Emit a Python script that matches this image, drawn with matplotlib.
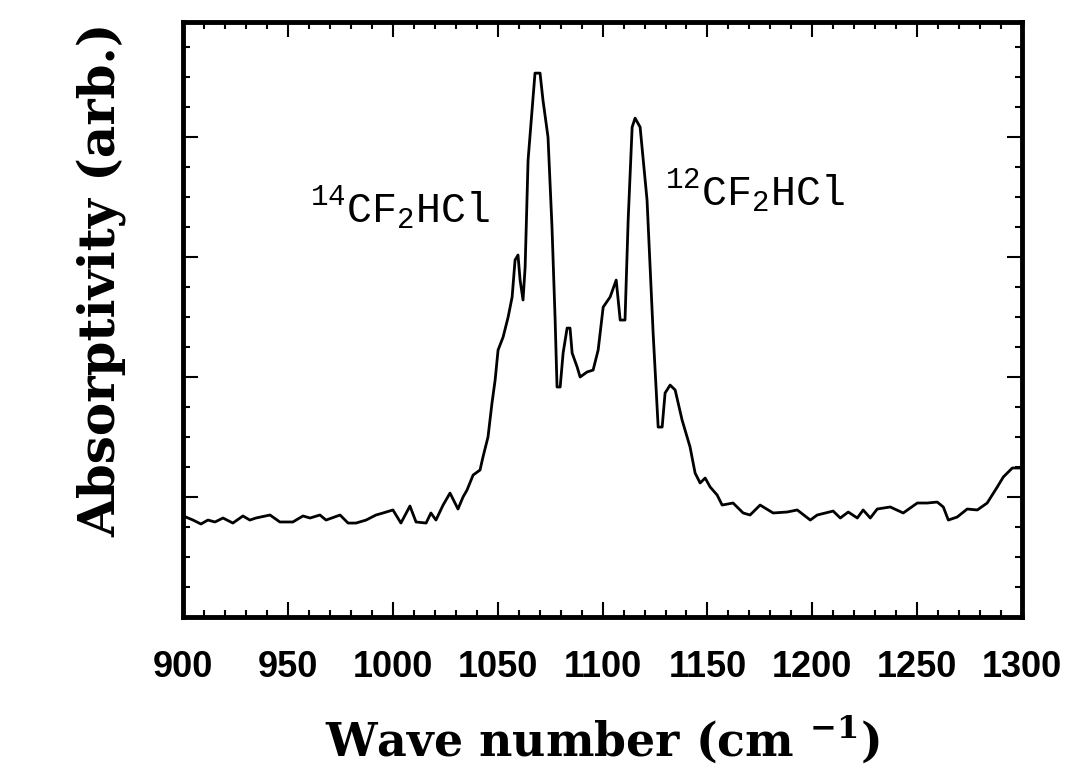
import numpy as np
import matplotlib.pyplot as plt
from matplotlib.ticker import MultipleLocator
from matplotlib import font_manager

# spectrum
wavenumber = [901.4, 904.8, 908.6, 911.9, 915.3, 919.1, 923.8, 928.6, 931.9, 934.8,
              941.5, 946.2, 952.4, 957.2, 960.6, 965.3, 968.2, 974.9, 978.7, 982.5,
              987.3, 992.0, 995.4, 1000.1, 1003.9, 1008.2, 1011.1, 1015.9, 1018.2, 1020.6,
              1024.0, 1027.3, 1031.1, 1033.5, 1035.4, 1038.3, 1041.6, 1043.0, 1045.4, 1047.3,
              1048.8, 1050.2, 1052.6, 1055.0, 1056.9, 1058.3, 1059.7, 1060.7, 1062.1, 1063.1,
              1064.5, 1066.4, 1067.8, 1070.2, 1071.6, 1074.0, 1075.9, 1077.4, 1078.3, 1079.8,
              1081.2, 1083.1, 1084.5, 1085.5, 1087.9, 1089.3, 1092.6, 1095.5, 1097.9, 1100.3,
              1103.6, 1106.5, 1108.4, 1110.7, 1112.2, 1114.1, 1115.5, 1117.9, 1121.2, 1124.1,
              1126.5, 1128.4, 1129.8, 1132.2, 1134.6, 1137.9, 1141.7, 1144.1, 1146.5, 1148.9,
              1151.3, 1154.6, 1157.0, 1162.2, 1167.0, 1170.3, 1175.1, 1181.3, 1188.0, 1192.8,
              1199.0, 1202.3, 1209.9, 1213.3, 1217.1, 1221.4, 1224.2, 1227.6, 1230.9, 1237.1,
              1243.3, 1250.0, 1254.7, 1259.5, 1262.4, 1264.8, 1269.0, 1273.8, 1278.6, 1283.3,
              1288.1, 1291.0, 1295.3, 1300.0]
absorptivity = [0.833, 0.808, 0.775, 0.808, 0.792, 0.825, 0.783, 0.842, 0.808, 0.825,
                0.850, 0.792, 0.792, 0.842, 0.825, 0.850, 0.808, 0.850, 0.783, 0.783,
                0.808, 0.850, 0.867, 0.892, 0.783, 0.925, 0.792, 0.783, 0.867, 0.808,
                0.933, 1.033, 0.900, 1.000, 1.058, 1.183, 1.225, 1.333, 1.500, 1.783,
                1.975, 2.225, 2.333, 2.500, 2.667, 2.975, 3.017, 2.808, 2.642, 2.917,
                3.808, 4.225, 4.533, 4.533, 4.308, 4.000, 3.250, 2.475, 1.917, 1.917,
                2.200, 2.408, 2.408, 2.200, 2.083, 2.000, 2.042, 2.058, 2.225, 2.583,
                2.667, 2.808, 2.475, 2.475, 3.308, 4.083, 4.158, 4.083, 3.475, 2.367,
                1.583, 1.583, 1.867, 1.933, 1.892, 1.642, 1.417, 1.200, 1.117, 1.158,
                1.083, 1.017, 0.933, 0.950, 0.867, 0.850, 0.933, 0.867, 0.875, 0.892,
                0.808, 0.850, 0.883, 0.825, 0.875, 0.825, 0.892, 0.825, 0.900, 0.917,
                0.867, 0.950, 0.950, 0.958, 0.917, 0.808, 0.833, 0.900, 0.892, 0.950,
                1.083, 1.167, 1.242, 1.242]

x_ticks = [900, 950, 1000, 1050, 1100, 1150, 1200, 1250, 1300]

installed = {f.name for f in font_manager.fontManager.ttflist}
tick_font = 'Liberation Sans Narrow' if 'Liberation Sans Narrow' in installed else 'Liberation Sans'

plt.rcParams['mathtext.fontset'] = 'custom'
plt.rcParams['mathtext.rm'] = 'DejaVu Serif'
plt.rcParams['mathtext.bf'] = 'DejaVu Serif:bold'
plt.rcParams['mathtext.tt'] = 'Liberation Mono'

fig = plt.figure(figsize=(10.76, 7.82), dpi=100)
ax = fig.add_axes([0.170, 0.211, 0.780, 0.761])

ax.plot(wavenumber, absorptivity, color='black', linewidth=2.0)

ax.set_xlim(900, 1300)
ax.set_ylim(0, 4.96)
ax.set_xticks(x_ticks)
ax.xaxis.set_minor_locator(MultipleLocator(10))
ax.yaxis.set_major_locator(MultipleLocator(1))
ax.yaxis.set_minor_locator(MultipleLocator(0.25))
ax.set_yticklabels([])

ax.tick_params(which='both', direction='in', top=True, right=True, width=1.5, color='black')
ax.tick_params(which='major', length=11)
ax.tick_params(which='minor', length=5)
ax.tick_params(axis='x', which='major', pad=24)
for lab in ax.get_xticklabels():
    lab.set_fontfamily(tick_font)
    lab.set_fontweight('bold')
    lab.set_fontsize(26)

for s in ax.spines.values():
    s.set_linewidth(3.5)

ax.set_xlabel(r'Wave number (cm $^{\mathbf{-1}}$)', fontfamily='DejaVu Serif',
              fontweight='bold', fontsize=33, labelpad=20)
ax.set_ylabel('Absorptivity (arb.)', fontfamily='DejaVu Serif',
              fontweight='bold', fontsize=36)
ax.yaxis.set_label_coords(-0.067, 0.566)

ax.text(960.5, 3.29, r'$^{\mathtt{14}}$CF$_{\mathtt{2}}$HCl', fontfamily='Liberation Mono',
        fontsize=30, ha='left', va='baseline')
ax.text(1129.8, 3.43, r'$^{\mathtt{12}}$CF$_{\mathtt{2}}$HCl', fontfamily='Liberation Mono',
        fontsize=30, ha='left', va='baseline')

fig.savefig('out.png', dpi=100)
